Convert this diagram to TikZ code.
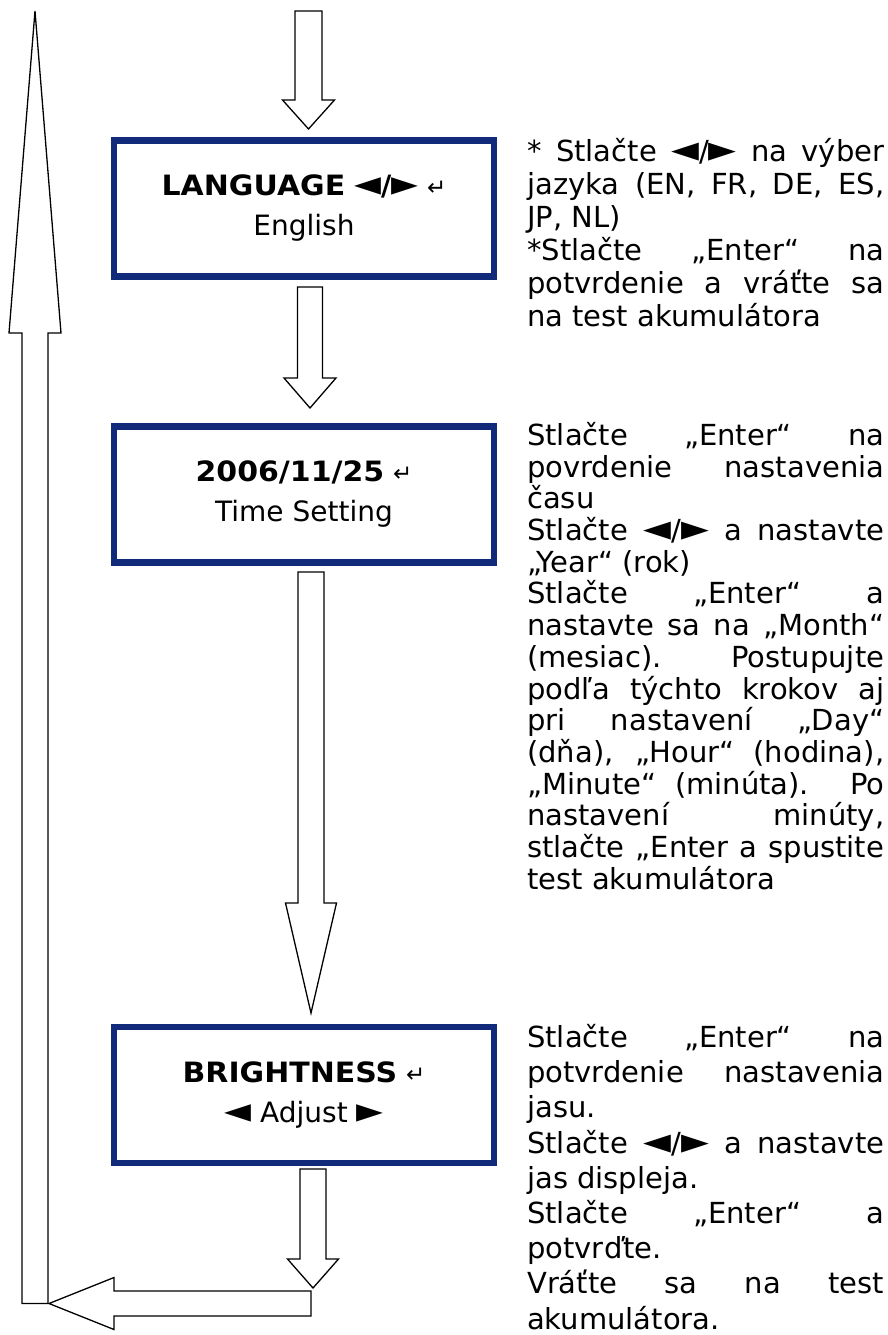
\documentclass[tikz,border=0pt]{standalone}
\usepackage{fontspec}
\usepackage{graphicx}
\setmainfont{DejaVu Sans}
\usetikzlibrary{calc}
\definecolor{navy}{RGB}{18,42,122}
\setlength\parindent{0pt}
\newcommand\J[1]{\makebox[357pt][s]{#1}}
\newcommand\R[1]{\makebox[357pt][l]{#1}}
\newcommand\ret{{\fontsize{23}{23}\selectfont ↵}}
\newcommand\Lt{\scalebox{1.25}{◄}}
\newcommand\Rt{\scalebox{1.25}{►}}
\newcommand\B[1]{\scalebox{1.07}[1]{\bfseries #1}}
% vertical block arrow pointing down: #1 start coord, #2 tip coord, #3 shaft half width, #4 head half width, #5 head length
\newcommand\downblk[5]{\draw[blk] let \p1=(#1), \p2=(#2) in
  (\x2-#3pt,\y1) -- (\x2+#3pt,\y1) -- (\x2+#3pt,\y2+#5pt) -- (\x2+#4pt,\y2+#5pt) -- (\p2)
  -- (\x2-#4pt,\y2+#5pt) -- (\x2-#3pt,\y2+#5pt) -- cycle;}
\newcommand\upblk[5]{\draw[blk] let \p1=(#1), \p2=(#2) in
  (\x2-#3pt,\y1) -- (\x2+#3pt,\y1) -- (\x2+#3pt,\y2-#5pt) -- (\x2+#4pt,\y2-#5pt) -- (\p2)
  -- (\x2-#4pt,\y2-#5pt) -- (\x2-#3pt,\y2-#5pt) -- cycle;}
\newcommand\leftblk[5]{\draw[blk] let \p1=(#1), \p2=(#2) in
  (\x1,\y2+#3pt) -- (\x1,\y2-#3pt) -- (\x2+#5pt,\y2-#3pt) -- (\x2+#5pt,\y2-#4pt) -- (\p2)
  -- (\x2+#5pt,\y2+#4pt) -- (\x2+#5pt,\y2+#3pt) -- cycle;}
\begin{document}
\begin{tikzpicture}[x=1pt,y=-1pt,
  lcd/.style={draw=navy, line width=6.5pt, fill=white, minimum width=380pt, minimum height=136pt,
    inner sep=0pt, align=center, font=\fontsize{28}{40}\selectfont},
  blk/.style={draw=black, line width=1.3pt, fill=white, line join=miter},
  desc/.style={anchor=north west, inner sep=0pt, align=left}]
\useasboundingbox (0,0) rectangle (888,1335);

% boxes
\node[lcd] (lang) at (304,208.5) {\B{LANGUAGE} \Lt{\bfseries/}\Rt\ \ret\\English};
\node[lcd] (time) at (304,494.5) {\B{2006/11/25} \ret\\Time Setting};
\node[lcd] (bright) at (304,1094.75) {\B{BRIGHTNESS} \ret\\\Lt\ Adjust \Rt};

% arrow end points
\coordinate (a1s) at (308.5,11);   \coordinate (a1e) at (308.5,129);
\coordinate (a2s) at (310,287);    \coordinate (a2e) at (310,408);
\coordinate (a3s) at (311,572);    \coordinate (a3e) at (311,1013);
\coordinate (a4s) at (313,1169);   \coordinate (a4e) at (313,1288);
\coordinate (hs) at (311,1303.5);  \coordinate (he) at (49,1303.5);
\coordinate (vs) at (35,1303.5);   \coordinate (ve) at (35,11);

\downblk{a1s}{a1e}{13.5}{26}{29}
\downblk{a2s}{a2e}{12.5}{26}{30}
\downblk{a3s}{a3e}{13}{25.5}{110}
\downblk{a4s}{a4e}{13}{25.5}{29}
\upblk{vs}{ve}{13}{26}{322}
\leftblk{hs}{he}{12.5}{26}{65}

% descriptions
\node[desc, font=\fontsize{29}{33}\selectfont] (d1) at (527,138) {%
\J{* Stlačte \Lt/\Rt\ na výber}\\
\J{jazyka (EN, FR, DE, ES,}\\
\R{JP, NL)}\\
\J{*Stlačte „Enter“ na}\\
\J{potvrdenie a vráťte sa}\\
\R{na test akumulátora}};

\node[desc, font=\fontsize{29}{31.7}\selectfont] (d2) at (527,422) {%
\J{Stlačte „Enter“ na}\\
\J{povrdenie nastavenia}\\
\R{času}\\
\J{Stlačte \Lt/\Rt\ a nastavte}\\
\R{„Year“ (rok)}\\
\J{Stlačte „Enter“ a}\\
\J{nastavte sa na „Month“}\\
\J{(mesiac). Postupujte}\\
\J{podľa týchto krokov aj}\\
\J{pri nastavení „Day“}\\
\J{(dňa), „Hour“ (hodina),}\\
\J{„Minute“ (minúta). Po}\\
\J{nastavení minúty,}\\
\J{stlačte „Enter a spustite}\\
\R{test akumulátora}};

\node[desc, font=\fontsize{29}{35.2}\selectfont] (d3) at (527,1024) {%
\J{Stlačte „Enter“ na}\\
\J{potvrdenie nastavenia}\\
\R{jasu.}\\
\J{Stlačte \Lt/\Rt\ a nastavte}\\
\R{jas displeja.}\\
\J{Stlačte „Enter“ a}\\
\R{potvrďte.}\\
\J{Vráťte sa na test}\\
\R{akumulátora.}};
\end{tikzpicture}
\end{document}
